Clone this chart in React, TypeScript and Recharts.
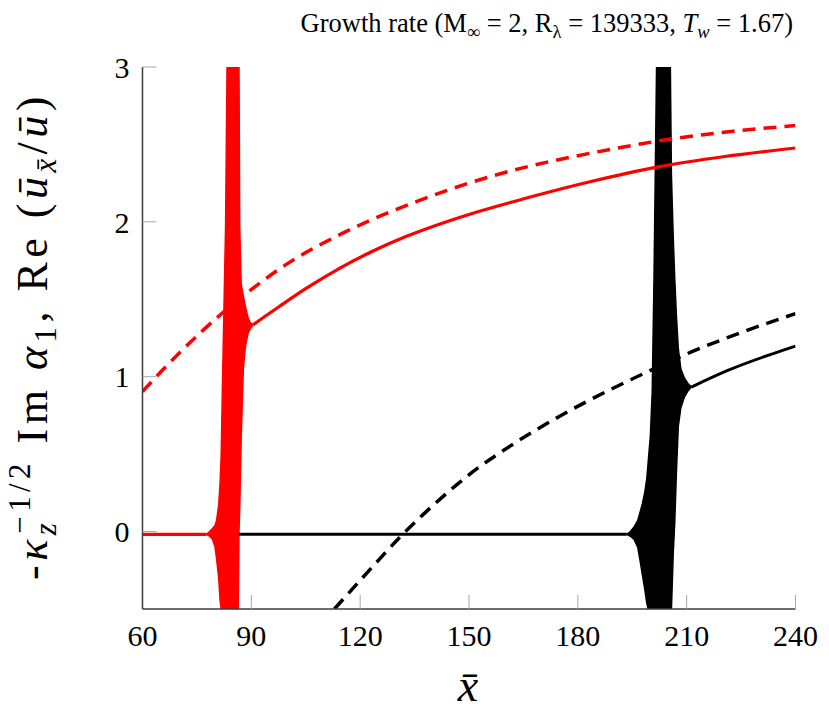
import React from 'react';
import { ComposedChart, Line, Area, XAxis, YAxis } from 'recharts';

const xTicks = [60, 90, 120, 150, 180, 210, 240];
const yTicks = [0, 1, 2, 3];

const redSolid = [
  { x: 60, y: -0.018 },
  { x: 77.6, y: -0.018 },
  { x: 84, y: null },
  { x: 90.5, y: 1.336 },
  { x: 97.8, y: 1.455 },
  { x: 105.1, y: 1.57 },
  { x: 114.3, y: 1.7 },
  { x: 123.4, y: 1.81 },
  { x: 132.6, y: 1.905 },
  { x: 141.8, y: 1.985 },
  { x: 150, y: 2.048 },
  { x: 165.6, y: 2.152 },
  { x: 183.9, y: 2.262 },
  { x: 202.2, y: 2.355 },
  { x: 220.5, y: 2.422 },
  { x: 240, y: 2.477 },
];

const redDashed = [
  { x: 60, y: 0.904 },
  { x: 65, y: 1.03 },
  { x: 70, y: 1.15 },
  { x: 76, y: 1.285 },
  { x: 82.2, y: 1.415 },
  { x: 91.5, y: 1.59 },
  { x: 100.6, y: 1.74 },
  { x: 110, y: 1.865 },
  { x: 120.9, y: 1.99 },
  { x: 136, y: 2.135 },
  { x: 151, y: 2.258 },
  { x: 165, y: 2.35 },
  { x: 178.1, y: 2.418 },
  { x: 193, y: 2.485 },
  { x: 205.1, y: 2.533 },
  { x: 221.6, y: 2.582 },
  { x: 240, y: 2.622 },
];

const blackSolid = [
  { x: 86.5, y: -0.018 },
  { x: 193.5, y: -0.018 },
  { x: 200, y: null },
  { x: 211.3, y: 0.933 },
  { x: 221, y: 1.037 },
  { x: 240, y: 1.198 },
];

const blackDashed = [
  { x: 112.9, y: -0.5 },
  { x: 123.5, y: -0.225 },
  { x: 130.8, y: -0.04 },
  { x: 141.8, y: 0.205 },
  { x: 151, y: 0.385 },
  { x: 161.2, y: 0.55 },
  { x: 175, y: 0.745 },
  { x: 188.8, y: 0.915 },
  { x: 200.7, y: 1.048 },
  { x: 211.3, y: 1.16 },
  { x: 225.6, y: 1.29 },
  { x: 240, y: 1.408 },
];

// oscillation envelopes [low, high]
const redBand = [
  { x: 77.6, r: [-0.018, -0.018] },
  { x: 78.5, r: [-0.03, 0.0] },
  { x: 79.3, r: [-0.05, 0.02] },
  { x: 80.0, r: [-0.1, 0.04] },
  { x: 80.4, r: [-0.17, 0.07] },
  { x: 81.0, r: [-0.3, 0.17] },
  { x: 81.4, r: [-0.45, 0.32] },
  { x: 81.7, r: [-0.5, 0.5] },
  { x: 82.0, r: [-0.5, 0.9] },
  { x: 82.5, r: [-0.5, 1.5] },
  { x: 82.9, r: [-0.5, 1.97] },
  { x: 83.3, r: [-0.5, 3] },
  { x: 86.4, r: [-0.5, 3] },
  { x: 86.6, r: [0.0, 3] },
  { x: 86.8, r: [0.15, 1.97] },
  { x: 87.2, r: [0.6, 1.6] },
  { x: 87.8, r: [1.05, 1.52] },
  { x: 88.4, r: [1.2, 1.45] },
  { x: 89.1, r: [1.28, 1.38] },
  { x: 89.7, r: [1.31, 1.35] },
  { x: 90.5, r: [1.336, 1.336] },
];

const blackBand = [
  { x: 193.5, r: [-0.018, -0.018] },
  { x: 194.5, r: [-0.03, 0.0] },
  { x: 195.5, r: [-0.05, 0.03] },
  { x: 196.5, r: [-0.1, 0.07] },
  { x: 197.1, r: [-0.18, 0.12] },
  { x: 197.8, r: [-0.28, 0.18] },
  { x: 198.5, r: [-0.38, 0.26] },
  { x: 199.0, r: [-0.46, 0.34] },
  { x: 199.4, r: [-0.5, 0.45] },
  { x: 200.0, r: [-0.5, 0.62] },
  { x: 200.5, r: [-0.5, 0.9] },
  { x: 201.0, r: [-0.5, 1.64] },
  { x: 201.7, r: [-0.5, 3] },
  { x: 205.5, r: [-0.5, 3] },
  { x: 205.8, r: [-0.5, 2.3] },
  { x: 206.3, r: [-0.14, 1.9] },
  { x: 206.7, r: [0.05, 1.64] },
  { x: 207.2, r: [0.4, 1.38] },
  { x: 207.7, r: [0.68, 1.18] },
  { x: 208.4, r: [0.8, 1.05] },
  { x: 209.4, r: [0.87, 0.99] },
  { x: 210.4, r: [0.91, 0.955] },
  { x: 211.3, r: [0.933, 0.933] },
];

const FONT = '"Liberation Serif", "DejaVu Serif", serif';
const RED = '#ff0000';
const FRAME = '#3c3c3c';
const TICK = '#a8a8a8';

const tickStyle = { fill: '#000', fontSize: 30, fontFamily: FONT };

const Sub = ({ children }: { children: React.ReactNode }) => (
  <span style={{ fontSize: '0.7em', position: 'relative', top: '0.3em' }}>{children}</span>
);
const Sup = ({ children, ml }: { children: React.ReactNode; ml?: number }) => (
  <span style={{ fontSize: '0.7em', position: 'relative', top: '-0.55em', marginLeft: ml }}>{children}</span>
);

export default function App() {
  return (
    <div style={{ position: 'relative', width: 813, height: 700, fontFamily: FONT }}>
      <div
        style={{
          position: 'absolute',
          right: 28,
          top: 2,
          fontSize: 26.5,
          lineHeight: '26px',
          whiteSpace: 'nowrap',
        }}
      >
        Growth rate (M<Sub>∞</Sub> = 2, R<Sub>λ</Sub> = 139333, <i>T</i>
        <Sub>
          <i>w</i>
        </Sub>{' '}
        = 1.67)
      </div>
      <ComposedChart
        width={813}
        height={700}
        margin={{ top: 59, right: 25.5, bottom: 0, left: 0 }}
      >
        <XAxis
          dataKey="x"
          type="number"
          domain={[60, 240]}
          ticks={xTicks}
          allowDataOverflow
          height={99}
          tickSize={-14}
          tickMargin={30}
          tick={tickStyle}
          tickLine={{ stroke: TICK, strokeWidth: 1 }}
          axisLine={{ stroke: FRAME, strokeWidth: 1.5 }}
        />
        <XAxis
          xAxisId="top"
          orientation="top"
          dataKey="x"
          type="number"
          domain={[60, 240]}
          ticks={xTicks}
          allowDataOverflow
          height={0}
          tickSize={-14}
          tick={false}
          tickLine={{ stroke: TICK, strokeWidth: 1 }}
          axisLine={{ stroke: FRAME, strokeWidth: 1.5 }}
        />
        <YAxis
          type="number"
          domain={[-0.5, 3]}
          ticks={yTicks}
          allowDataOverflow
          width={134.5}
          tickSize={-14}
          tickMargin={27}
          tick={tickStyle}
          tickLine={{ stroke: TICK, strokeWidth: 1 }}
          axisLine={{ stroke: FRAME, strokeWidth: 1.5 }}
        />
        <YAxis
          yAxisId="right"
          orientation="right"
          type="number"
          domain={[-0.5, 3]}
          ticks={yTicks}
          allowDataOverflow
          width={0}
          tickSize={-14}
          tick={false}
          tickLine={{ stroke: TICK, strokeWidth: 1 }}
          axisLine={{ stroke: FRAME, strokeWidth: 1.5 }}
        />
        <Area
          data={blackBand}
          dataKey="r"
          type="linear"
          stroke="#000"
          strokeWidth={1.5}
          fill="#000"
          fillOpacity={1}
          isAnimationActive={false}
          dot={false}
          activeDot={false}
        />
        <Line
          data={blackSolid}
          dataKey="y"
          type="monotone"
          stroke="#000"
          strokeWidth={3}
          dot={false}
          activeDot={false}
          isAnimationActive={false}
        />
        <Line
          data={blackDashed}
          dataKey="y"
          type="monotone"
          stroke="#000"
          strokeWidth={3.5}
          strokeDasharray="13 8"
          dot={false}
          activeDot={false}
          isAnimationActive={false}
        />
        <Area
          data={redBand}
          dataKey="r"
          type="linear"
          stroke={RED}
          strokeWidth={1.5}
          fill={RED}
          fillOpacity={1}
          isAnimationActive={false}
          dot={false}
          activeDot={false}
        />
        <Line
          data={redSolid}
          dataKey="y"
          type="monotone"
          stroke={RED}
          strokeWidth={3.2}
          dot={false}
          activeDot={false}
          isAnimationActive={false}
        />
        <Line
          data={redDashed}
          dataKey="y"
          type="monotone"
          stroke={RED}
          strokeWidth={3.5}
          strokeDasharray="13 8"
          dot={false}
          activeDot={false}
          isAnimationActive={false}
        />
      </ComposedChart>
      <div
        style={{
          position: 'absolute',
          left: 27,
          top: 328,
          transform: 'translate(-50%, -50%) rotate(-90deg)',
          fontSize: 44,
          lineHeight: '44px',
          letterSpacing: 4.5,
          whiteSpace: 'nowrap',
        }}
      >
        -<i>κ</i>
        <Sub>
          <i>z</i>
        </Sub>
        <Sup ml={-15}>−1/2</Sup> Im <i>α</i>
        <Sub>1</Sub>, Re (<i>ū</i>
        <Sub>
          <i>x̄</i>
        </Sub>
        /<i>ū</i>)
      </div>
      <div
        style={{
          position: 'absolute',
          left: 460,
          top: 655,
          transform: 'translateX(-50%)',
          fontSize: 46,
          lineHeight: '46px',
          whiteSpace: 'nowrap',
        }}
      >
        <i>x̄</i>
      </div>
    </div>
  );
}
